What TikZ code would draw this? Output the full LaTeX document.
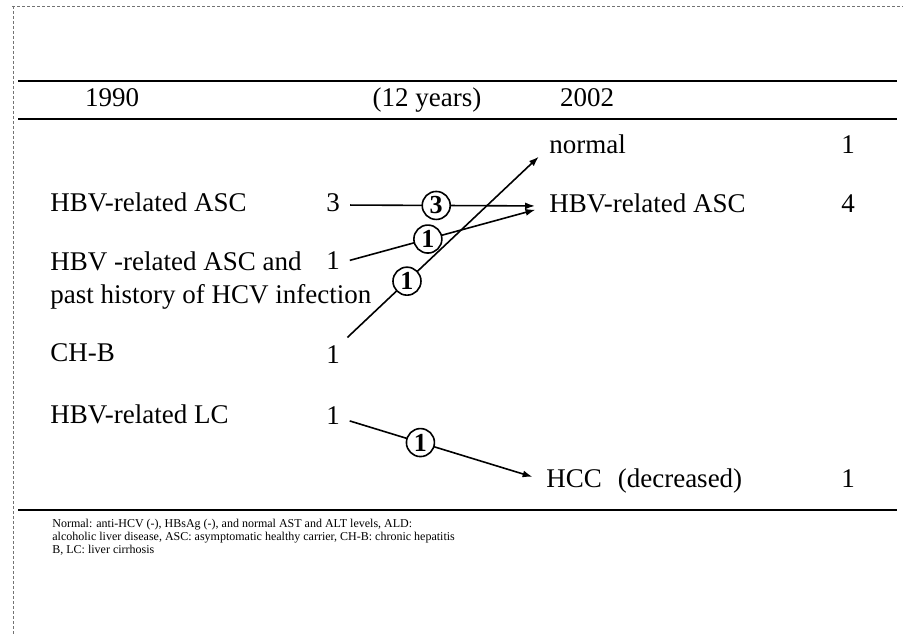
\documentclass[tikz,border=0pt]{standalone}
\usepackage{fontspec}
\setmainfont{Liberation Serif}
\usetikzlibrary{arrows.meta}
\tikzset{
  lbl/.style={anchor=west, inner sep=0pt, text height=9.5pt, text depth=2.8pt, font=\fontsize{13.5}{16}\selectfont},
  cnt/.style={inner sep=0pt, text height=9.5pt, text depth=2.8pt, font=\fontsize{13.5}{16}\selectfont},
  hdr/.style={inner sep=0pt, text height=9.5pt, text depth=2.8pt, font=\fontsize{13.5}{16}\selectfont},
  move/.style={line width=0.8pt, -{Latex[length=5pt,width=3.5pt]}, shorten <=5pt, shorten >=7pt},
  circ/.style={circle, draw, line width=0.8pt, fill=white, minimum size=14pt, inner sep=0pt, font=\fontsize{13}{15}\selectfont\bfseries},
  rule/.style={line width=1.1pt},
  scanedge/.style={line width=0.4pt, black!55, dash pattern=on 1.5pt off 1pt}
}
\begin{document}
\begin{tikzpicture}[x=0.5pt,y=-0.5pt]
  \useasboundingbox (0,0) rectangle (903,636);
  %%%%% scan edges %%%%%
  \draw[scanedge] (12,6) -- (903,6);
  \draw[scanedge] (13,6) -- (13,636);

  %%%%% rules and header %%%%%
  \draw[rule] (18,81) -- (897,81);
  \draw[rule] (18,119) -- (897,119);
  \draw[rule] (18,510) -- (897,510);
  \node[hdr] (h1990) at (112,100) {1990};
  \node[hdr] (hyears) at (427,100) {(12 years)};
  \node[hdr] (h2002) at (587,100) {2002};

  %%%%% 1990 %%%%%
  \node[lbl] (asc1) at (50,205) {HBV-related ASC};
  \node[cnt] (c3) at (333,205) {3};
  \node[lbl] (mix) at (50,264) {HBV -related ASC and};
  \node[lbl] (mixb) at (50,297) {past history of HCV infection};
  \node[cnt] (c4) at (333,263) {1};
  \node[lbl] (chb) at (50,355) {CH-B};
  \node[cnt] (c5) at (333,357) {1};
  \node[lbl] (lc) at (50,417) {HBV-related LC};
  \node[cnt] (c6) at (333,418) {1};

  %%%%% 2002 %%%%%
  \node[lbl] (nrm) at (549,147) {normal};
  \node[cnt] (n1) at (848,147) {1};
  \node[lbl] (asc2) at (549,206) {HBV-related ASC};
  \node[cnt] (n4) at (848,206) {4};
  \node[lbl] (hcc) at (546,481) {HCC};
  \node[cnt] (dec) at (680,481) {(decreased)};
  \node[cnt] (n5) at (848,481) {1};

  %%%%% changes %%%%%
  \draw[move] (c3.east) -- node[circ, pos=0.46] (o3) {3} (asc2.west);
  \draw[move] (c4.east) -- node[circ, pos=0.42] (o1a) {1} (asc2.west);
  \draw[move] (c5.north east) -- node[circ, pos=0.32] (o1b) {1} (nrm.west);
  \draw[move] (c6.east) -- node[circ, pos=0.39] (o1c) {1} (hcc.west);

  %%%%% footnote %%%%%
  \node[anchor=north west, inner sep=0pt, align=left, font=\fontsize{6}{6.5}\selectfont] (note) at (52,519)
    {Normal: anti-HCV (-), HBsAg (-), and normal AST and ALT levels, ALD:\\
     alcoholic liver disease, ASC: asymptomatic healthy carrier, CH-B: chronic hepatitis\\
     B, LC: liver cirrhosis};
\end{tikzpicture}
\end{document}
